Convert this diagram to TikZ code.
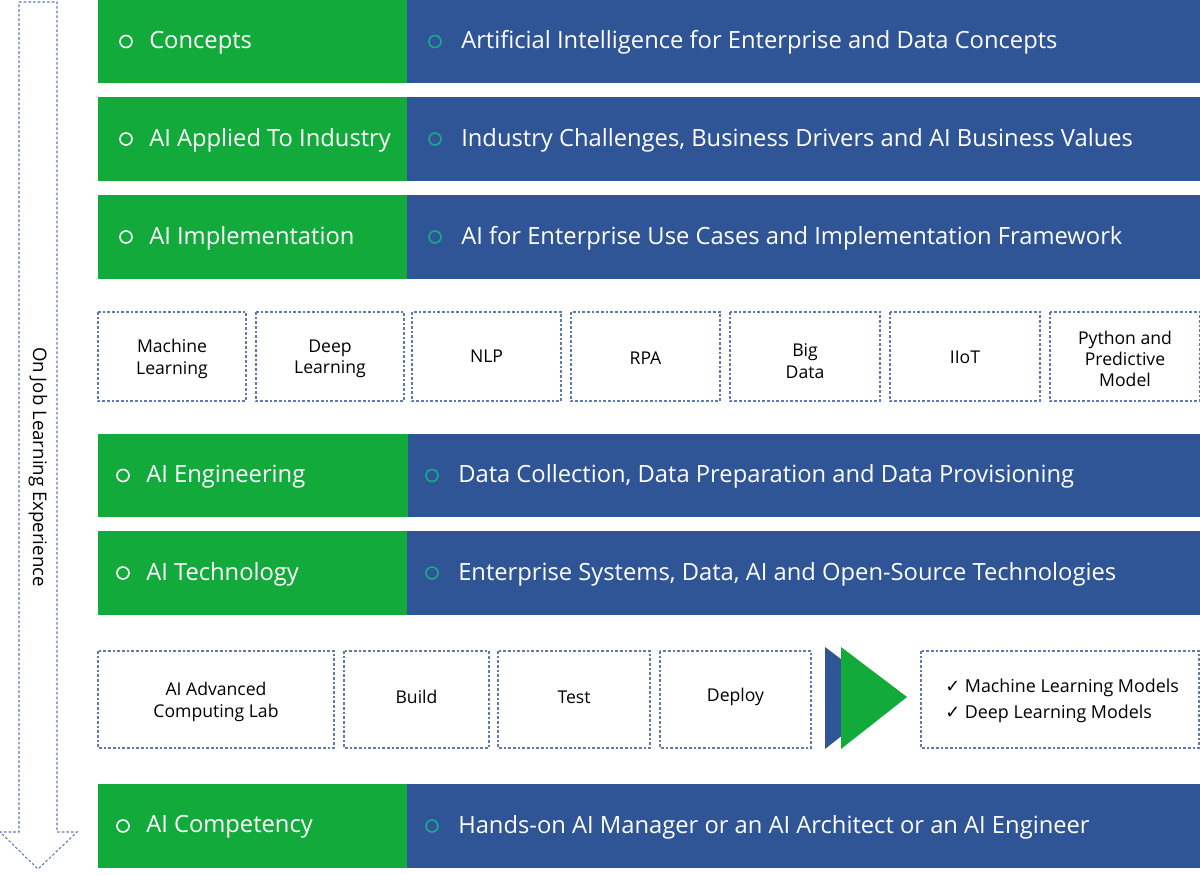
\documentclass[tikz,border=0pt]{standalone}
\usepackage{fontspec}
\setmainfont{Open Sans}
\usetikzlibrary{calc}
\definecolor{bandgreen}{HTML}{12AB3B}
\definecolor{bandblue}{HTML}{2F5597}
\definecolor{bullteal}{HTML}{1AAB8A}
\definecolor{dashline}{HTML}{5E7AB0}
\begin{document}
\begin{tikzpicture}[x=0.75pt,y=-0.75pt,
  greenpart/.style={fill=bandgreen,draw=none},
  bluepart/.style={fill=bandblue,draw=none},
  bandtext/.style={anchor=west,text=white,font=\fontsize{17.8}{19}\selectfont,inner sep=0pt},
  wbullet/.style={circle,draw=white,line width=1.2pt,minimum size=9pt,inner sep=0pt},
  tbullet/.style={circle,draw=bullteal,line width=1.2pt,minimum size=9pt,inner sep=0pt},
  dbox/.style={draw=dashline,dashed,dash pattern=on 2pt off 1.5pt,line width=0.8pt},
  boxtext/.style={align=center,font=\fontsize{13.2}{16}\selectfont,inner sep=0pt},
]
\useasboundingbox (0,0) rectangle (1200,875);

% left down arrow
\draw[dbox] (19,2) -- (57,2) -- (57,832) -- (77,832) -- (38,869) -- (0,832) -- (19,832) -- cycle;
\node[rotate=-90,font=\fontsize{14}{16}\selectfont,inner sep=0pt] (side) at (38,467) {On Job Learning Experience};

% bands: top, bottom, split x, left text, right text, text offset
\foreach \t/\b/\s/\lt/\rt/\ox/\n in {
  0/83/407/Concepts/Artificial Intelligence for Enterprise and Data Concepts/0/r1,
  97/181/407/AI Applied To Industry/{Industry Challenges, Business Drivers and AI Business Values}/0/r2,
  195/279/407/AI Implementation/AI for Enterprise Use Cases and Implementation Framework/0/r3,
  434/517/408/AI Engineering/{Data Collection, Data Preparation and Data Provisioning}/-3/r4,
  531/615/407/AI Technology/{Enterprise Systems, Data, AI and Open-Source Technologies}/-3/r5,
  784/868/407/AI Competency/Hands-on AI Manager or an AI Architect or an AI Engineer/-3/r6}{
  \fill[greenpart] (98,\t) rectangle (\s,\b);
  \fill[bluepart] (\s,\t) rectangle (1200,\b);
  \node[wbullet] (\n gb) at ($(126+\ox,{(\t+\b)/2})$) {};
  \node[bandtext] (\n gt) at ($(149+\ox,{(\t+\b)/2+1})$) {\lt};
  \node[tbullet] (\n bb) at ($(435+\ox,{(\t+\b)/2})$) {};
  \node[bandtext] (\n bt) at ($(461+\ox,{(\t+\b)/2+1})$) {\rt};
}

% topic boxes: left, right, label, name, label centre
\foreach \l/\r/\txt/\n/\cy in {98/246/{Machine\\Learning}/t1/359, 256/404/{Deep\\Learning}/t2/359,
  412/561/NLP/t3/356, 571/720/RPA/t4/358, 730/880/{Big\\Data}/t5/361, 890/1040/IIoT/t6/357,
  1050/1200/{Python and\\Predictive\\Model}/t7/359}{
  \draw[dbox] (\l,312) rectangle (\r,401);
  \node[boxtext] (\n) at ({(\l+\r)/2},\cy) {\txt};
}

% lab pipeline boxes
\foreach \l/\r/\txt/\n/\cy in {98/334/{AI Advanced\\Computing Lab}/p1/702, 344/489/Build/p2/697,
  498/650/Test/p3/697, 660/811/Deploy/p4/697}{
  \draw[dbox] (\l,651) rectangle (\r,748);
  \node[boxtext] (\n) at ({(\l+\r)/2},\cy) {\txt};
}

% double chevron
\fill[bandblue] (825,647) -- (891,697) -- (825,749) -- cycle;
\fill[bandgreen] (841,647) -- (907,697) -- (841,749) -- cycle;

% outcome box
\draw[dbox] (921,651) rectangle (1199,748);
\node[anchor=west,align=left,font=\fontsize{13.4}{19.5}\selectfont,inner sep=0pt] (out) at (945,701)
  {{\fontspec{DejaVu Sans}✓}\ Machine Learning Models\\{\fontspec{DejaVu Sans}✓}\ Deep Learning Models};
\end{tikzpicture}
\end{document}
